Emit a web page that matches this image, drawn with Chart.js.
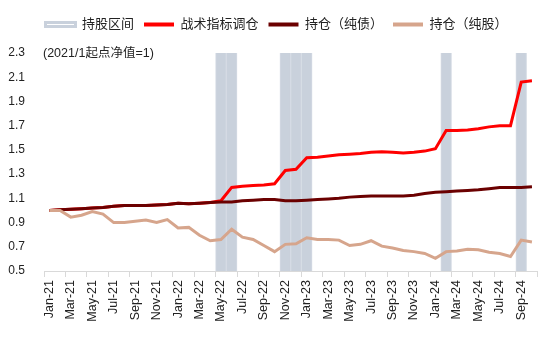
<!DOCTYPE html>
<html>
<head>
<meta charset="utf-8">
<script src="https://cdn.jsdelivr.net/npm/chart.js@4"></script>
<style>
  html, body { margin: 0; padding: 0; background: #fff; }
  #wrap { width: 550px; height: 342px; position: relative; }
</style>
</head>
<body>
<div id="wrap"><canvas id="navChart"></canvas></div>
<script>
// months, Jan-21 .. Oct-24
const months = [
  "Jan-21", "Feb-21", "Mar-21", "Apr-21", "May-21", "Jun-21", "Jul-21", "Aug-21", "Sep-21", "Oct-21", "Nov-21", "Dec-21",
  "Jan-22", "Feb-22", "Mar-22", "Apr-22", "May-22", "Jun-22", "Jul-22", "Aug-22", "Sep-22", "Oct-22", "Nov-22", "Dec-22",
  "Jan-23", "Feb-23", "Mar-23", "Apr-23", "May-23", "Jun-23", "Jul-23", "Aug-23", "Sep-23", "Oct-23", "Nov-23", "Dec-23",
  "Jan-24", "Feb-24", "Mar-24", "Apr-24", "May-24", "Jun-24", "Jul-24", "Aug-24", "Sep-24", "Oct-24"
];

// months in which the strategy holds stocks
const stockMonths = ["May-22", "Jun-22", "Nov-22", "Dec-22", "Jan-23", "Feb-24", "Sep-24"];

// tactical switching strategy NAV
const tacticalNav = [
  1.00, 1.005, 1.01, 1.015, 1.02, 1.025, 1.035, 1.04, 1.04, 1.04, 1.045, 1.05,
  1.06, 1.055, 1.06, 1.065, 1.08, 1.19, 1.20, 1.205, 1.21, 1.22, 1.33, 1.34,
  1.435, 1.44, 1.45, 1.46, 1.465, 1.47, 1.48, 1.485, 1.48, 1.475, 1.48, 1.49,
  1.51, 1.66, 1.66, 1.665, 1.675, 1.69, 1.70, 1.70, 2.06, 2.07
];

// pure bond holding NAV
const bondNav = [
  1.00, 1.005, 1.01, 1.015, 1.02, 1.025, 1.035, 1.04, 1.04, 1.04, 1.045, 1.05,
  1.06, 1.055, 1.06, 1.065, 1.07, 1.07, 1.08, 1.085, 1.09, 1.09, 1.08, 1.08,
  1.085, 1.09, 1.095, 1.10, 1.11, 1.115, 1.12, 1.12, 1.12, 1.12, 1.125, 1.14,
  1.15, 1.155, 1.16, 1.165, 1.17, 1.18, 1.19, 1.19, 1.19, 1.195
];

// pure stock holding NAV
const stockNav = [
  1.00, 1.00, 0.945, 0.96, 0.99, 0.97, 0.90, 0.90, 0.91, 0.92, 0.90, 0.925,
  0.855, 0.86, 0.795, 0.75, 0.76, 0.845, 0.78, 0.76, 0.71, 0.66, 0.72, 0.725,
  0.775, 0.76, 0.76, 0.755, 0.71, 0.72, 0.75, 0.705, 0.69, 0.67, 0.66, 0.645,
  0.605, 0.66, 0.665, 0.68, 0.675, 0.655, 0.645, 0.62, 0.755, 0.74
];

const yMin = 0.5;
const yMax = 2.3;

const FONT = '"Liberation Sans", Arial, "Noto Sans CJK SC", sans-serif';
const bandColor = "#c9d1dc";

// shaded band: full-height bar in each stock month
const bandData = months.map((m) => (stockMonths.includes(m) ? yMax : null));

// note text in the top-left corner of the plot
const notePlugin = {
  id: "note",
  afterDraw(chart) {
    const ctx = chart.ctx;
    ctx.save();
    ctx.font = "12.5px " + FONT;
    ctx.fillStyle = "#222";
    ctx.textBaseline = "middle";
    ctx.fillText("(2021/1起点净值=1)", chart.chartArea.left - 1, chart.scales.y.getPixelForValue(yMax) + 0.5);
    ctx.restore();
  },
};

// extra room under the legend
const legendGap = {
  id: "legendGap",
  beforeInit(chart) {
    const fit = chart.legend.fit;
    chart.legend.fit = function () {
      fit.call(this);
      this.height += 12;
    };
  },
};

new Chart(document.getElementById("navChart"), {
  type: "line",
  data: {
    labels: months,
    datasets: [
      {
        type: "bar",
        label: "持股区间",
        data: bandData,
        backgroundColor: bandColor,
        borderColor: "#d5dbe4",
        borderWidth: { left: 1, right: 1, top: 0, bottom: 0 },
        barPercentage: 1,
        categoryPercentage: 1,
        order: 4,
      },
      {
        label: "战术指标调仓",
        data: tacticalNav,
        borderColor: "#ff0000",
        backgroundColor: "#ff0000",
        borderWidth: 3,
        pointRadius: 0,
        tension: 0,
        order: 3,
      },
      {
        label: "持仓（纯债）",
        data: bondNav,
        borderColor: "#6b0000",
        backgroundColor: "#6b0000",
        borderWidth: 3,
        pointRadius: 0,
        tension: 0,
        order: 2,
      },
      {
        label: "持仓（纯股）",
        data: stockNav,
        borderColor: "#d6a58c",
        backgroundColor: "#d6a58c",
        borderWidth: 3,
        pointRadius: 0,
        tension: 0,
        order: 1,
      },
    ],
  },
  options: {
    responsive: true,
    maintainAspectRatio: false,
    animation: false,
    layout: { padding: { left: 8, right: 5, top: 8, bottom: 0 } },
    plugins: {
      tooltip: { enabled: false },
      legend: {
        position: "top",
        labels: {
          boxWidth: 30,
          boxHeight: 4,
          padding: 10,
          color: "#222",
          font: { size: 13, family: FONT },
          generateLabels: (chart) =>
            chart.data.datasets.map((ds, i) => ({
              text: ds.label,
              datasetIndex: i,
              fillStyle: ds.type === "bar" ? "#ffffff" : ds.borderColor,
              strokeStyle: ds.type === "bar" ? bandColor : ds.borderColor,
              lineWidth: ds.type === "bar" ? 3 : 0,
              fontColor: "#222",
              hidden: false,
            })),
        },
      },
    },
    scales: {
      x: {
        offset: true,
        grid: {
          offset: true,
          drawOnChartArea: false,
          drawTicks: true,
          tickLength: 6,
          color: (ctx) => (ctx.type !== "tick" || ctx.index % 2 === 0 ? "#d9d9d9" : "rgba(0,0,0,0)"),
        },
        border: { display: true, color: "#d9d9d9", width: 1 },
        ticks: {
          autoSkip: false,
          minRotation: 90,
          maxRotation: 90,
          padding: 3,
          color: "#222",
          font: { size: 12.5, family: FONT },
          callback: (val, i) => (i % 2 === 0 ? months[i] : ""),
        },
        afterFit: (scale) => {
          scale.height = 71;
        },
      },
      y: {
        min: yMin,
        max: yMax,
        grid: { display: false, drawTicks: false },
        border: { display: false },
        ticks: {
          stepSize: 0.2,
          padding: 19,
          color: "#222",
          font: { size: 12, family: FONT },
          callback: (v) => v.toFixed(1),
        },
        afterFit: (scale) => {
          scale.width = 36;
        },
      },
    },
  },
  plugins: [notePlugin, legendGap],
});
</script>
</body>
</html>
